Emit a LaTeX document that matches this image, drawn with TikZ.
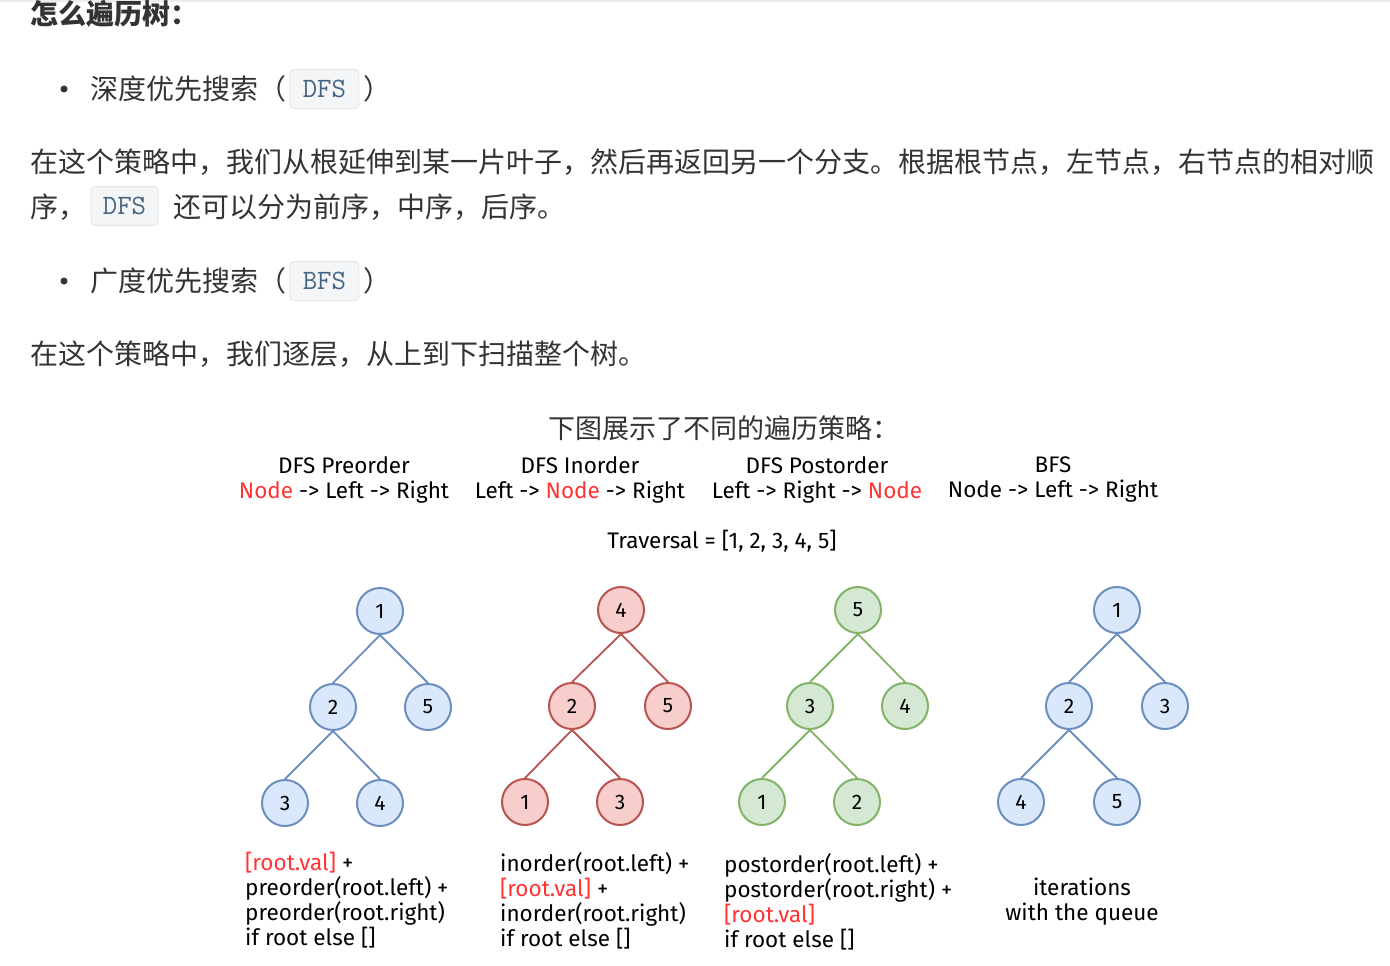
\documentclass[tikz,border=0pt]{standalone}
\usepackage{fontspec}
\setmainfont{Fira Sans}
\newfontfamily\cjk{Noto Sans CJK SC}
\usepackage{xcolor}
\usepackage{tikz}
\usetikzlibrary{positioning}

\definecolor{bodytext}{HTML}{333333}
\definecolor{hilite}{HTML}{FF3333}
\definecolor{codebg}{HTML}{F3F5F7}
\definecolor{codeline}{HTML}{E2E7EC}
\definecolor{codetext}{HTML}{476582}
\definecolor{topline}{HTML}{EAECEF}
\definecolor{bluefill}{HTML}{DAE8FC}
\definecolor{blueline}{HTML}{6C8EBF}
\definecolor{redfill}{HTML}{F8CECC}
\definecolor{redline}{HTML}{B85450}
\definecolor{greenfill}{HTML}{D5E8D4}
\definecolor{greenline}{HTML}{82B366}

\begin{document}
\begin{tikzpicture}[x=1pt, y=-1pt,
    cjktext/.style={inner sep=0, text=bodytext, font=\cjk\fontsize{28}{34}\selectfont},
    codebox/.style={draw=codeline, fill=codebg, rounded corners=4pt, text=codetext, line width=1pt,
        font=\ttfamily\fontsize{28}{30}\selectfont, minimum width=69, minimum height=39, inner sep=0},
    bullet/.style={circle, fill=bodytext, minimum size=7, inner sep=0},
    tnode/.style={circle, draw=#1line, fill=#1fill, line width=2pt, minimum size=46, inner sep=0,
        font=\fontsize{21}{24}\selectfont},
    tedge/.style={draw=#1line, line width=1.8pt},
    headtxt/.style={font=\fontsize{22.5}{25}\selectfont, align=center, inner sep=0},
    codetxt/.style={font=\fontsize{22.5}{25}\selectfont, align=left, inner sep=0}
]
\useasboundingbox (0,0) rectangle (1390,966);
\fill[topline] (0,0) rectangle (1390,2);

% Texte
\node[cjktext, anchor=west, font=\cjk\bfseries\fontsize{28}{34}\selectfont] (title) at (30,14) {怎么遍历树：};

\node[bullet] (dot1) at (64,89) {};
\node[cjktext, anchor=west] (dfsitem) at (90,89) {深度优先搜索（};
\node[codebox, right=3pt of dfsitem] (dfscode) {DFS};
\node[cjktext, right=4pt of dfscode] (dfsclose) {）};

\node[cjktext, anchor=west] (dfsline1) at (30,162) {在这个策略中，我们从根延伸到某一片叶子，然后再返回另一个分支。根据根节点，左节点，右节点的相对顺};
\node[cjktext, anchor=west] (dfsline2) at (30,207) {序，};
\node[codebox, minimum width=67] (dfscode2) at (124.5,206) {DFS};
\node[cjktext, anchor=west] (dfsline3) at (173,207) {还可以分为前序，中序，后序。};

\node[bullet] (dot2) at (64,281) {};
\node[cjktext, anchor=west] (bfsitem) at (90,281) {广度优先搜索（};
\node[codebox, right=3pt of bfsitem] (bfscode) {BFS};
\node[cjktext, right=4pt of bfscode] (bfsclose) {）};

\node[cjktext, anchor=west] (bfsline) at (30,354) {在这个策略中，我们逐层，从上到下扫描整个树。};

% Figure
\node[cjktext, anchor=west, font=\cjk\fontsize{27}{32}\selectfont] (caption) at (548,428) {下图展示了不同的遍历策略：};

\node[headtxt] (prehead) at (344,480) {DFS Preorder\\\textcolor{hilite}{Node} -> Left -> Right};
\node[headtxt] (inhead) at (580,480) {DFS Inorder\\Left -> \textcolor{hilite}{Node} -> Right};
\node[headtxt] (posthead) at (817,480) {DFS Postorder\\Left -> Right -> \textcolor{hilite}{Node}};
\node[headtxt] (bfshead) at (1053,480) {BFS\\Node -> Left -> Right};
\node[headtxt] (trav) at (722,541) {Traversal = [1, 2, 3, 4, 5]};

% Arbre preorder
\foreach \n/\v/\dx/\dy in {1/1/0/0, 2/2/-47/96, 3/5/48/96, 4/3/-95/192, 5/4/0/192}
    \node[tnode=blue] (pre\n) at (380+\dx,611+\dy) {\v};
% Arbre inorder
\foreach \n/\v/\dx/\dy in {1/4/0/0, 2/2/-49/96, 3/5/47/96, 4/1/-96/192, 5/3/-1/192}
    \node[tnode=red] (in\n) at (621+\dx,610+\dy) {\v};
% Arbre postorder
\foreach \n/\v/\dx/\dy in {1/5/0/0, 2/3/-48/96, 3/4/47/96, 4/1/-96/192, 5/2/-1/192}
    \node[tnode=green] (post\n) at (858+\dx,610+\dy) {\v};
% Arbre BFS
\foreach \n/\v/\dx/\dy in {1/1/0/0, 2/2/-48/96, 3/3/48/96, 4/4/-96/192, 5/5/0/192}
    \node[tnode=blue] (bfs\n) at (1117+\dx,610+\dy) {\v};

\foreach \a/\b in {1/2, 1/3, 2/4, 2/5} {
    \draw[tedge=blue] (pre\a.south) -- (pre\b.north);
    \draw[tedge=red] (in\a.south) -- (in\b.north);
    \draw[tedge=green] (post\a.south) -- (post\b.north);
    \draw[tedge=blue] (bfs\a.south) -- (bfs\b.north);
}

% Code
\node[codetxt, anchor=north west] (precode) at (245,852) {\textcolor{hilite}{[root.val]} +\\preorder(root.left) +\\preorder(root.right)\\if root else []};
\node[codetxt, anchor=north west] (incode) at (500,852) {inorder(root.left) +\\\textcolor{hilite}{[root.val]} +\\inorder(root.right)\\if root else []};
\node[codetxt, anchor=north west] (postcode) at (724,853) {postorder(root.left) +\\postorder(root.right) +\\\textcolor{hilite}{[root.val]}\\if root else []};
\node[headtxt] (bfscode) at (1082,902) {iterations\\with the queue};
\end{tikzpicture}
\end{document}
